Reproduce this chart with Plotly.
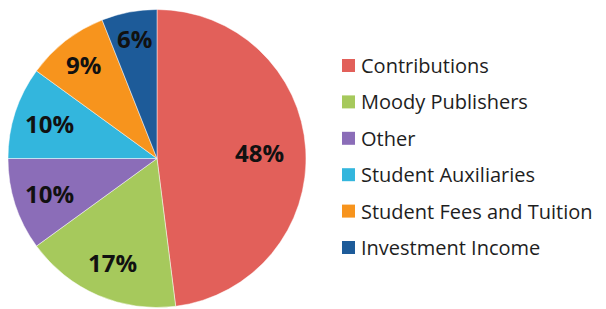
import math
import plotly.graph_objects as go

categories = ["Contributions", "Moody Publishers", "Other", "Student Auxiliaries",
              "Student Fees and Tuition", "Investment Income"]
values = [48, 17, 10, 10, 9, 6]
colors = ["#e2605a", "#a6c95c", "#8b6db8", "#33b6dd", "#f7941d", "#1d5b99"]

W, H = 606, 309
OFF = 8  # page body margin offset

def px(x):
    return (x - OFF) / W

def py(y):
    return 1 - (y - OFF) / H

# pie geometry in reference pixels
cx, cy, R = 157, 158.5, 149

fig = go.Figure()
fig.add_trace(go.Pie(
    labels=categories,
    values=values,
    sort=False,
    direction="clockwise",
    rotation=0,
    marker=dict(colors=colors, line=dict(color="rgba(255,255,255,0.6)", width=0.8)),
    textinfo="none",
    hoverinfo="label+percent",
    showlegend=False,
    domain=dict(x=[px(cx - R), px(cx + R)], y=[py(cy + R), py(cy - R)]),
))

annotations, shapes = [], []

# slice labels at mid-angle of each slice
label_r = [0.69, 0.76, 0.76, 0.76, 0.80, 0.82]
total = sum(values)
cum = 0
for v, rf in zip(values, label_r):
    mid = (cum + v / 2) / total * 2 * math.pi
    cum += v
    lx_ = cx + rf * R * math.sin(mid)
    ly_ = cy - rf * R * math.cos(mid)
    annotations.append(dict(text=f"{v}%", xref="paper", yref="paper",
                            x=px(lx_), y=py(ly_), xanchor="center", yanchor="middle",
                            showarrow=False,
                            font=dict(family="Open Sans", size=24, color="#111111",
                                      weight="bold")))

# legend built as shapes + annotations
lx, ly0, step, box = 342, 65.5, 36.4, 13
for i, (cat, col) in enumerate(zip(categories, colors)):
    yy = ly0 + i * step
    shapes.append(dict(type="rect", xref="paper", yref="paper",
                       x0=px(lx), x1=px(lx + box),
                       y0=py(yy + box / 2), y1=py(yy - box / 2),
                       fillcolor=col, line=dict(width=0)))
    annotations.append(dict(text=cat, xref="paper", yref="paper",
                            x=px(lx + box + 4), y=py(yy),
                            xanchor="left", yanchor="middle", showarrow=False,
                            font=dict(family="Open Sans", size=20, color="#1e1e1e")))

fig.update_layout(
    width=W, height=H,
    margin=dict(l=0, r=0, t=0, b=0),
    paper_bgcolor="white",
    shapes=shapes,
    annotations=annotations,
)

fig.write_html("out.html")
